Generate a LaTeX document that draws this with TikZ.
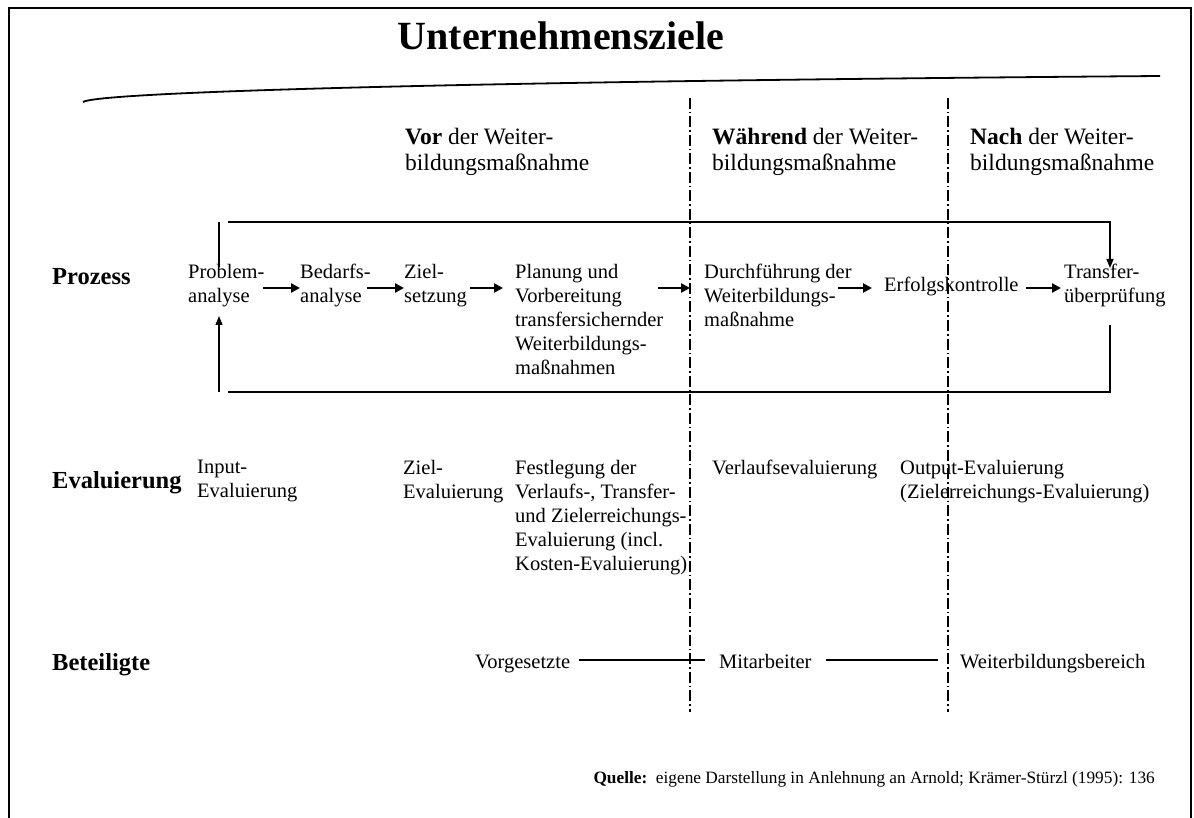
\documentclass[tikz,border=0pt]{standalone}
\usepackage{fontspec}
\setmainfont{Liberation Serif}
\usetikzlibrary{arrows.meta}
\begin{document}
\begin{tikzpicture}[x=1pt,y=-1pt,
  txt/.style={font=\fontsize{20.5}{24}\selectfont, inner sep=0pt, align=left, anchor=north west},
  head/.style={font=\fontsize{23.5}{25.5}\selectfont, inner sep=0pt, align=left, anchor=north west},
  lbl/.style={font=\fontsize{24.5}{28}\selectfont\bfseries, inner sep=0pt, anchor=base west},
  flow/.style={line width=2.6pt, -{Triangle[length=9pt,width=9pt]}},
  loopline/.style={line width=1.4pt},
  looparrow/.style={line width=1.4pt, -{Triangle[length=9pt,width=7pt]}},
  phase/.style={line width=1.1pt, dash pattern=on 11pt off 3pt on 1.5pt off 3pt},
  link/.style={line width=1.1pt}]
\useasboundingbox (0,0) rectangle (1194,818);
\fill[white] (0,0) rectangle (1194,818);
% frame
\draw[line width=2pt] (9,818) -- (9,8.5) -- (1191,8.5) -- (1191,818);

% title and goal curve
\node[font=\fontsize{40}{44}\selectfont\bfseries, inner sep=0pt] (title) at (561,36) {Unternehmensziele};
\draw[line width=1.8pt] (83,102) .. controls (96,93) and (400,82) .. (1160,76);

% phase separators
\draw[phase] (690,98) -- (690,712);
\draw[phase] (948,98) -- (948,712);

% phase headings
\node[head] (vor) at (405,128) {\textbf{Vor} der Weiter-\\bildungsmaßnahme};
\node[head] (waehrend) at (712,128) {\textbf{Während} der Weiter-\\bildungsmaßnahme};
\node[head] (nach) at (970,128) {\textbf{Nach} der Weiter-\\bildungsmaßnahme};

% process row
\node[lbl] (prozess) at (52,285) {Prozess};
\node[txt] (problem) at (188,264) {Problem-\\analyse};
\node[txt] (bedarf) at (300,264) {Bedarfs-\\analyse};
\node[txt] (ziel) at (404,264) {Ziel-\\setzung};
\node[txt] (planung) at (515,264) {Planung und\\Vorbereitung\\transfersichernder\\Weiterbildungs-\\maßnahmen};
\node[txt] (durch) at (704,264) {Durchführung der\\Weiterbildungs-\\maßnahme};
\node[txt, anchor=west] (erfolg) at (884,286) {Erfolgskontrolle};
\node[txt] (transfer) at (1064,264) {Transfer-\\überprüfung};

\coordinate (a1) at (263,288);
\draw[flow] (a1) -- (a1 -| bedarf.west);
\coordinate (a2) at (367,288);
\draw[flow] (a2) -- (a2 -| ziel.west);
\coordinate (a3) at (470,288);
\draw[flow] (a3) -- ([xshift=-12pt]a3 -| planung.west);
\coordinate (a4) at (658,288);
\coordinate (a4e) at (690,288);
\draw[flow] (a4) -- (a4e);
\coordinate (a5) at (838,288);
\draw[flow] (a5) -- ([xshift=-12pt]a5 -| erfolg.west);
\coordinate (a6) at (1026,288);
\draw[flow] (a6) -- ([xshift=-3pt]a6 -| transfer.west);

% feedback loop
\coordinate (lt) at (219,222);
\coordinate (lb) at (219,392);
\coordinate (rt) at (1110,222);
\coordinate (rb) at (1110,392);
\draw[loopline] (lt) -- (219,267);
\draw[looparrow] (228,222) -- (rt) -- (1110,268);
\draw[looparrow] (lb) -- (219,316);
\draw[loopline] (1110,325) -- (rb) -- (228,392);

% evaluation row
\node[lbl] (evaluierung) at (52,488) {Evaluierung};
\node[txt] (inputev) at (197,460) {Input-\\Evaluierung};
\node[txt] (zielev) at (403,460) {Ziel-\\Evaluierung};
\node[txt] (festlegung) at (515,460) {Festlegung der\\Verlaufs-, Transfer-\\und Zielerreichungs-\\Evaluierung (incl.\\Kosten-Evaluierung)};
\node[txt] (verlauf) at (712,460) {Verlaufsevaluierung};
\node[txt] (outputev) at (900,460) {Output-Evaluierung\\(Zielerreichungs-Evaluierung)};

% participants row
\node[lbl] (beteiligte) at (52,670) {Beteiligte};
\node[txt, anchor=base west] (vorg) at (475,668) {Vorgesetzte};
\node[txt, anchor=base west] (mitarb) at (719,668) {Mitarbeiter};
\node[txt, anchor=base west] (wbb) at (960,668) {Weiterbildungsbereich};
\draw[link] ([xshift=9pt]vorg.base east) ++(0,-8) -- ([xshift=-14pt,yshift=8pt]mitarb.base west);
\draw[link] ([xshift=14pt]mitarb.base east) ++(0,-8) -- ([xshift=-22pt,yshift=8pt]wbb.base west);

% source
\node[font=\fontsize{17.3}{20}\selectfont, inner sep=0pt, anchor=east] (quelle) at (1155,779) {\textbf{Quelle:}\ \ eigene Darstellung in Anlehnung an Arnold; Krämer-Stürzl (1995): 136};
\end{tikzpicture}
\end{document}
